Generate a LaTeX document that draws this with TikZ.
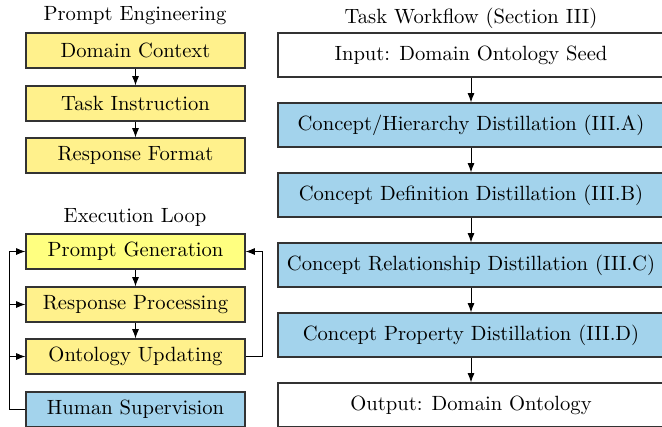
\documentclass[tikz,border=0pt]{standalone}
\usetikzlibrary{arrows.meta}
\definecolor{promptyellow}{HTML}{FFF18C}
\definecolor{genyellow}{HTML}{FFFF80}
\definecolor{stageblue}{HTML}{A3D3EC}
\begin{document}
\begin{tikzpicture}[x=0.4854pt, y=-0.4854pt,
    leftbox/.style={draw=black!80, semithick, minimum width=106.3pt, minimum height=17pt, inner sep=0pt},
    rightbox/.style={draw=black!80, semithick, minimum width=187.4pt, minimum height=21.4pt, inner sep=0pt},
    flow/.style={-{Latex[length=4.5pt,width=3.4pt]}}]
      \clip (0,0) rectangle (662,426);

      % prompt engineering
      \node (pe) at (135,16) {Prompt Engineering};
      \node[leftbox, fill=promptyellow] (dc) at (135.5,50.5) {Domain Context};
      \node[leftbox, fill=promptyellow] (ti) at (135.5,103.5) {Task Instruction};
      \node[leftbox, fill=promptyellow] (rf) at (135.5,155.5) {Response Format};
      \draw[flow] (dc) -- (ti);
      \draw[flow] (ti) -- (rf);

      % execution loop
      \node (el) at (135,217) {Execution Loop};
      \node[leftbox, fill=genyellow] (pg) at (135.5,251.5) {Prompt Generation};
      \node[leftbox, fill=promptyellow] (rp) at (135.5,304.5) {Response Processing};
      \node[leftbox, fill=promptyellow] (ou) at (135.5,356.5) {Ontology Updating};
      \node[leftbox, fill=stageblue] (hs) at (135.5,409.5) {Human Supervision};
      \draw[flow] (pg) -- (rp);
      \draw[flow] (rp) -- (ou);

      % supervision and feedback lines
      \coordinate (sv) at (9,304.5);
      \coordinate (su) at (9,356.5);
      \draw[flow] (hs.west) -| (9,251.5) -- (pg.west);
      \draw[flow] (sv) -- (rp.west);
      \draw[flow] (su) -- (ou.west);
      \draw[flow] (ou.east) -- (262,356.5) |- (pg.east);

      % task workflow
      \node (tw) at (471,18) {Task Workflow (Section III)};
      \node[rightbox] (in) at (471,55) {Input: Domain Ontology Seed};
      \node[rightbox, fill=stageblue] (ch) at (471,125) {Concept/Hierarchy Distillation (III.A)};
      \node[rightbox, fill=stageblue] (cd) at (471,195) {Concept Definition Distillation (III.B)};
      \node[rightbox, fill=stageblue] (cr) at (471,265) {Concept Relationship Distillation (III.C)};
      \node[rightbox, fill=stageblue] (cp) at (471,335) {Concept Property Distillation (III.D)};
      \node[rightbox] (out) at (471,405) {Output: Domain Ontology};
      \draw[flow] (in) -- (ch);
      \draw[flow] (ch) -- (cd);
      \draw[flow] (cd) -- (cr);
      \draw[flow] (cr) -- (cp);
      \draw[flow] (cp) -- (out);
    \end{tikzpicture}
\end{document}
